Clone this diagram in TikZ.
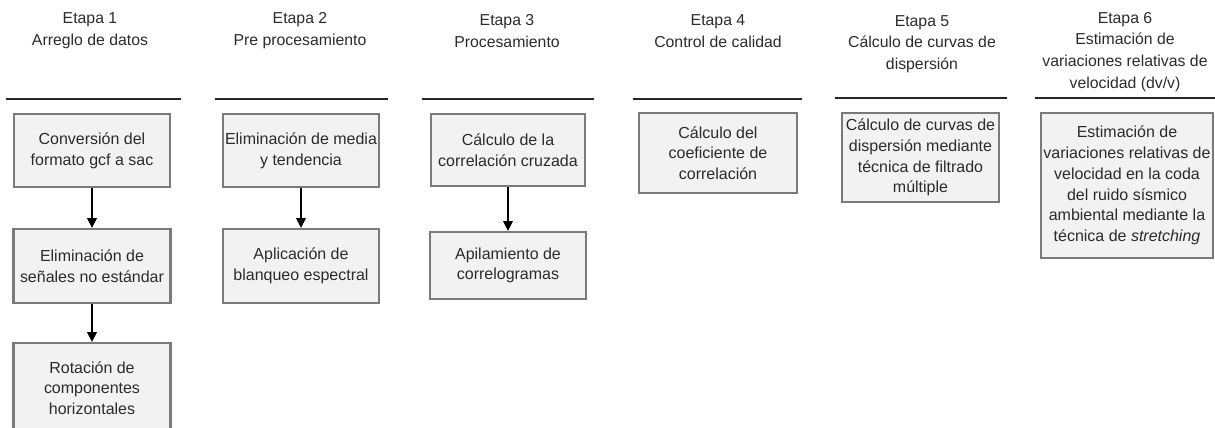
\documentclass[tikz,border=0pt]{standalone}
\usepackage{fontspec}
\setmainfont{Liberation Sans}
\usetikzlibrary{arrows.meta}
\definecolor{cajafondo}{HTML}{F2F2F2}
\definecolor{cajaborde}{HTML}{7A7A7A}
\definecolor{texto}{HTML}{2B2B2B}
\tikzset{
  etapa/.style={align=center, text=texto, font=\fontsize{9.0}{12.4}\selectfont},
  caja/.style={draw=cajaborde, line width=1.3pt, fill=cajafondo, align=center, text=texto, inner sep=0pt, font=\fontsize{9.1}{11.8}\selectfont},
  barra/.style={line width=1.7pt, draw=black!85},
  flecha/.style={-{Triangle[length=5.5pt,width=5.5pt]}, line width=0.6pt}
}

\begin{document}
\begin{tikzpicture}[x=0.02cm, y=-0.02cm]
\useasboundingbox (0,0) rectangle (1215,428);

\node[etapa] (t1) at (90,31) {Etapa 1\\Arreglo de datos};
\node[etapa] (t2) at (300,31) {Etapa 2\\Pre procesamiento};
\node[etapa] (t3) at (507,31) {Etapa 3\\Procesamiento};
\node[etapa] (t4) at (718,31) {Etapa 4\\Control de calidad};
\node[etapa] (t5) at (922,44) {Etapa 5\\C\'alculo de curvas de\\dispersi\'on};
\node[etapa] (t6) at (1125,52) {Etapa 6\\Estimaci\'on de\\variaciones relativas de\\velocidad (dv/v)};

\draw[barra] (6,99) -- (181,99);
\draw[barra] (215,99) -- (388,99);
\draw[barra] (422,99) -- (594,99);
\draw[barra] (633,99) -- (802,99);
\draw[barra] (835,98) -- (1007,98);
\draw[barra] (1035,98) -- (1216,98);

\node[caja, minimum width=3.12cm, minimum height=1.46cm] (c11) at (92,150.5) {Conversi\'on del\\formato gcf a sac};
\node[caja, minimum width=3.14cm, minimum height=1.48cm] (c12) at (92,266) {Eliminaci\'on de\\se\~nales no est\'andar};
\node[caja, minimum width=3.14cm, minimum height=1.8cm] (c13) at (92,388) {Rotaci\'on de\\componentes\\horizontales};
\node[caja, minimum width=3.12cm, minimum height=1.46cm] (c21) at (301,150.5) {Eliminaci\'on de media\\y tendencia};
\node[caja, minimum width=3.12cm, minimum height=1.48cm] (c22) at (301,266) {Aplicaci\'on de\\blanqueo espectral};
\node[caja, minimum width=3.08cm, minimum height=1.44cm] (c31) at (508,150) {C\'alculo de la\\correlaci\'on cruzada};
\node[caja, minimum width=3.12cm, minimum height=1.34cm] (c32) at (508,265.5) {Apilamiento de\\correlogramas};
\node[caja, minimum width=3.16cm, minimum height=1.6cm] (c41) at (718,153) {C\'alculo del\\coeficiente de\\correlaci\'on};
\node[caja, minimum width=3.14cm, minimum height=1.78cm] (c51) at (920.5,157.5) {C\'alculo de curvas de\\dispersi\'on mediante\\t\'ecnica de filtrado\\m\'ultiple};
\node[caja, minimum width=3.44cm, minimum height=2.9cm] (c61) at (1127,185.5) {Estimaci\'on de\\variaciones relativas de\\velocidad en la coda\\del ruido s\'ismico\\ambiental mediante la\\t\'ecnica de \textit{stretching}};

\draw[flecha] (c11) -- (c12);
\draw[flecha] (c12) -- (c13);
\draw[flecha] (c21) -- (c22);
\draw[flecha] (c31) -- (c32);
\end{tikzpicture}
\end{document}
